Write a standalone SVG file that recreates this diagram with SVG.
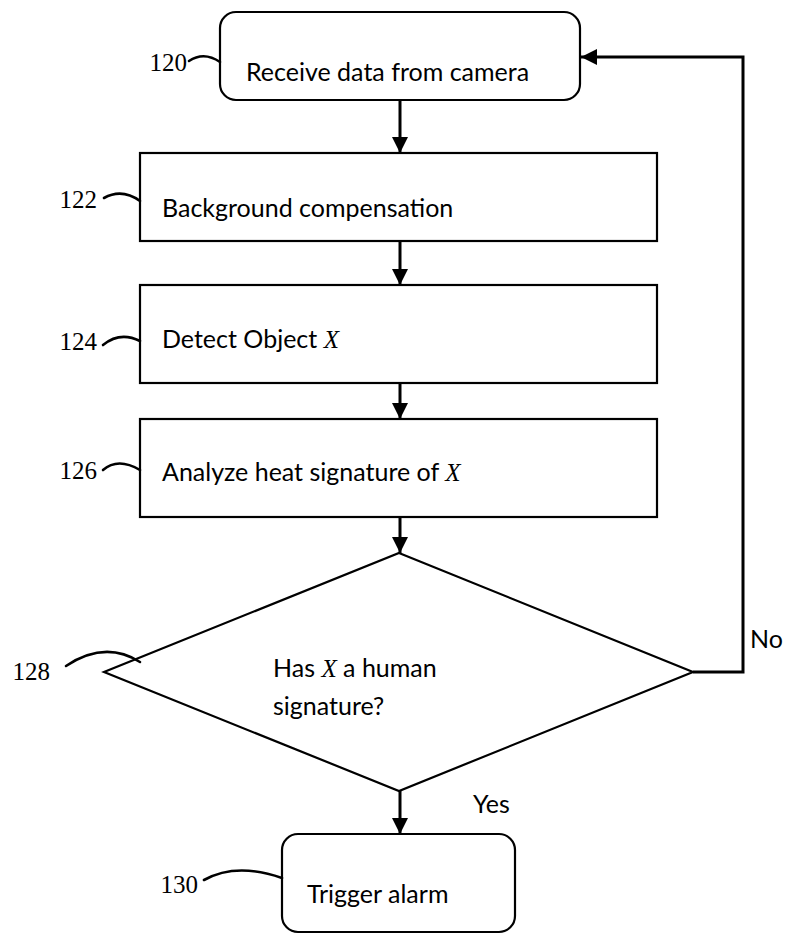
<svg xmlns="http://www.w3.org/2000/svg" width="810" height="934" viewBox="0 0 810 934">
  <style>
    .box { fill: #fff; stroke: #000; stroke-width: 2.2; }
    .txt { font-family: Lato, "Open Sans", "Liberation Sans", sans-serif; font-size: 25px; fill: #000; }
    .var { font-family: "Liberation Serif", "DejaVu Serif", serif; font-style: italic; }
    .ref { font-family: "Liberation Serif", "Times New Roman", serif; font-size: 25px; fill: #000; text-anchor: end; }
    .lead { fill: none; stroke: #000; stroke-width: 2.6; stroke-linecap: round; }
    .conn { fill: none; stroke: #000; stroke-width: 3; }
  </style>
  <defs>
    <marker id="arrow" viewBox="0 0 16 16" refX="16" refY="8" markerWidth="16" markerHeight="16" markerUnits="userSpaceOnUse" orient="auto">
      <path d="M0,0 L16,8 L0,16 Z" fill="#000"/>
    </marker>
  </defs>
  <rect width="810" height="934" fill="#fff"/>

  <!-- flow connectors -->
  <g id="connectors">
    <line class="conn" x1="400" y1="100" x2="400" y2="153" marker-end="url(#arrow)"/>
    <line class="conn" x1="400" y1="241" x2="400" y2="285" marker-end="url(#arrow)"/>
    <line class="conn" x1="400" y1="383" x2="400" y2="419" marker-end="url(#arrow)"/>
    <line class="conn" x1="400" y1="517" x2="400" y2="553" marker-end="url(#arrow)"/>
    <line class="conn" x1="400" y1="791" x2="400" y2="834" marker-end="url(#arrow)"/>
    <polyline class="conn" points="693,672 743,672 743,57 581,57" marker-end="url(#arrow)"/>
    <text class="txt" x="750" y="648">No</text>
    <text class="txt" x="473" y="813">Yes</text>
  </g>

  <!-- step 120 -->
  <g id="n120">
    <rect class="box" x="220" y="12" width="360" height="88" rx="16" ry="16"/>
    <text class="txt" x="246" y="81">Receive data from camera</text>
    <text class="ref" x="187" y="71">120</text>
    <path class="lead" d="M189,61 Q204,51 220,62"/>
  </g>

  <!-- step 122 -->
  <g id="n122">
    <rect class="box" x="140" y="153" width="517" height="88"/>
    <text class="txt" x="162" y="217">Background compensation</text>
    <text class="ref" x="97" y="208">122</text>
    <path class="lead" d="M104,198 Q122,188 140,201"/>
  </g>

  <!-- step 124 -->
  <g id="n124">
    <rect class="box" x="140" y="285" width="517" height="98"/>
    <text class="txt" x="162" y="348">Detect Object <tspan class="var">X</tspan></text>
    <text class="ref" x="97" y="350">124</text>
    <path class="lead" d="M103,345 Q120,331 140,341"/>
  </g>

  <!-- step 126 -->
  <g id="n126">
    <rect class="box" x="140" y="419" width="517" height="98"/>
    <text class="txt" x="162" y="481">Analyze heat signature of <tspan class="var">X</tspan></text>
    <text class="ref" x="97" y="479">126</text>
    <path class="lead" d="M103,470 Q118,457 140,470"/>
  </g>

  <!-- decision 128 -->
  <g id="n128">
    <polygon class="box" points="399,553 693,672 399,791 104,672"/>
    <text class="txt" x="273" y="677">Has <tspan class="var">X</tspan> a human</text>
    <text class="txt" x="273" y="715">signature?</text>
    <text class="ref" x="50" y="680">128</text>
    <path class="lead" d="M66,666 Q105,640 140,662"/>
  </g>

  <!-- step 130 -->
  <g id="n130">
    <rect class="box" x="282" y="834" width="233" height="98" rx="16" ry="16"/>
    <text class="txt" x="307" y="903">Trigger alarm</text>
    <text class="ref" x="198" y="893">130</text>
    <path class="lead" d="M204,880 Q236,862 282,878"/>
  </g>
</svg>
